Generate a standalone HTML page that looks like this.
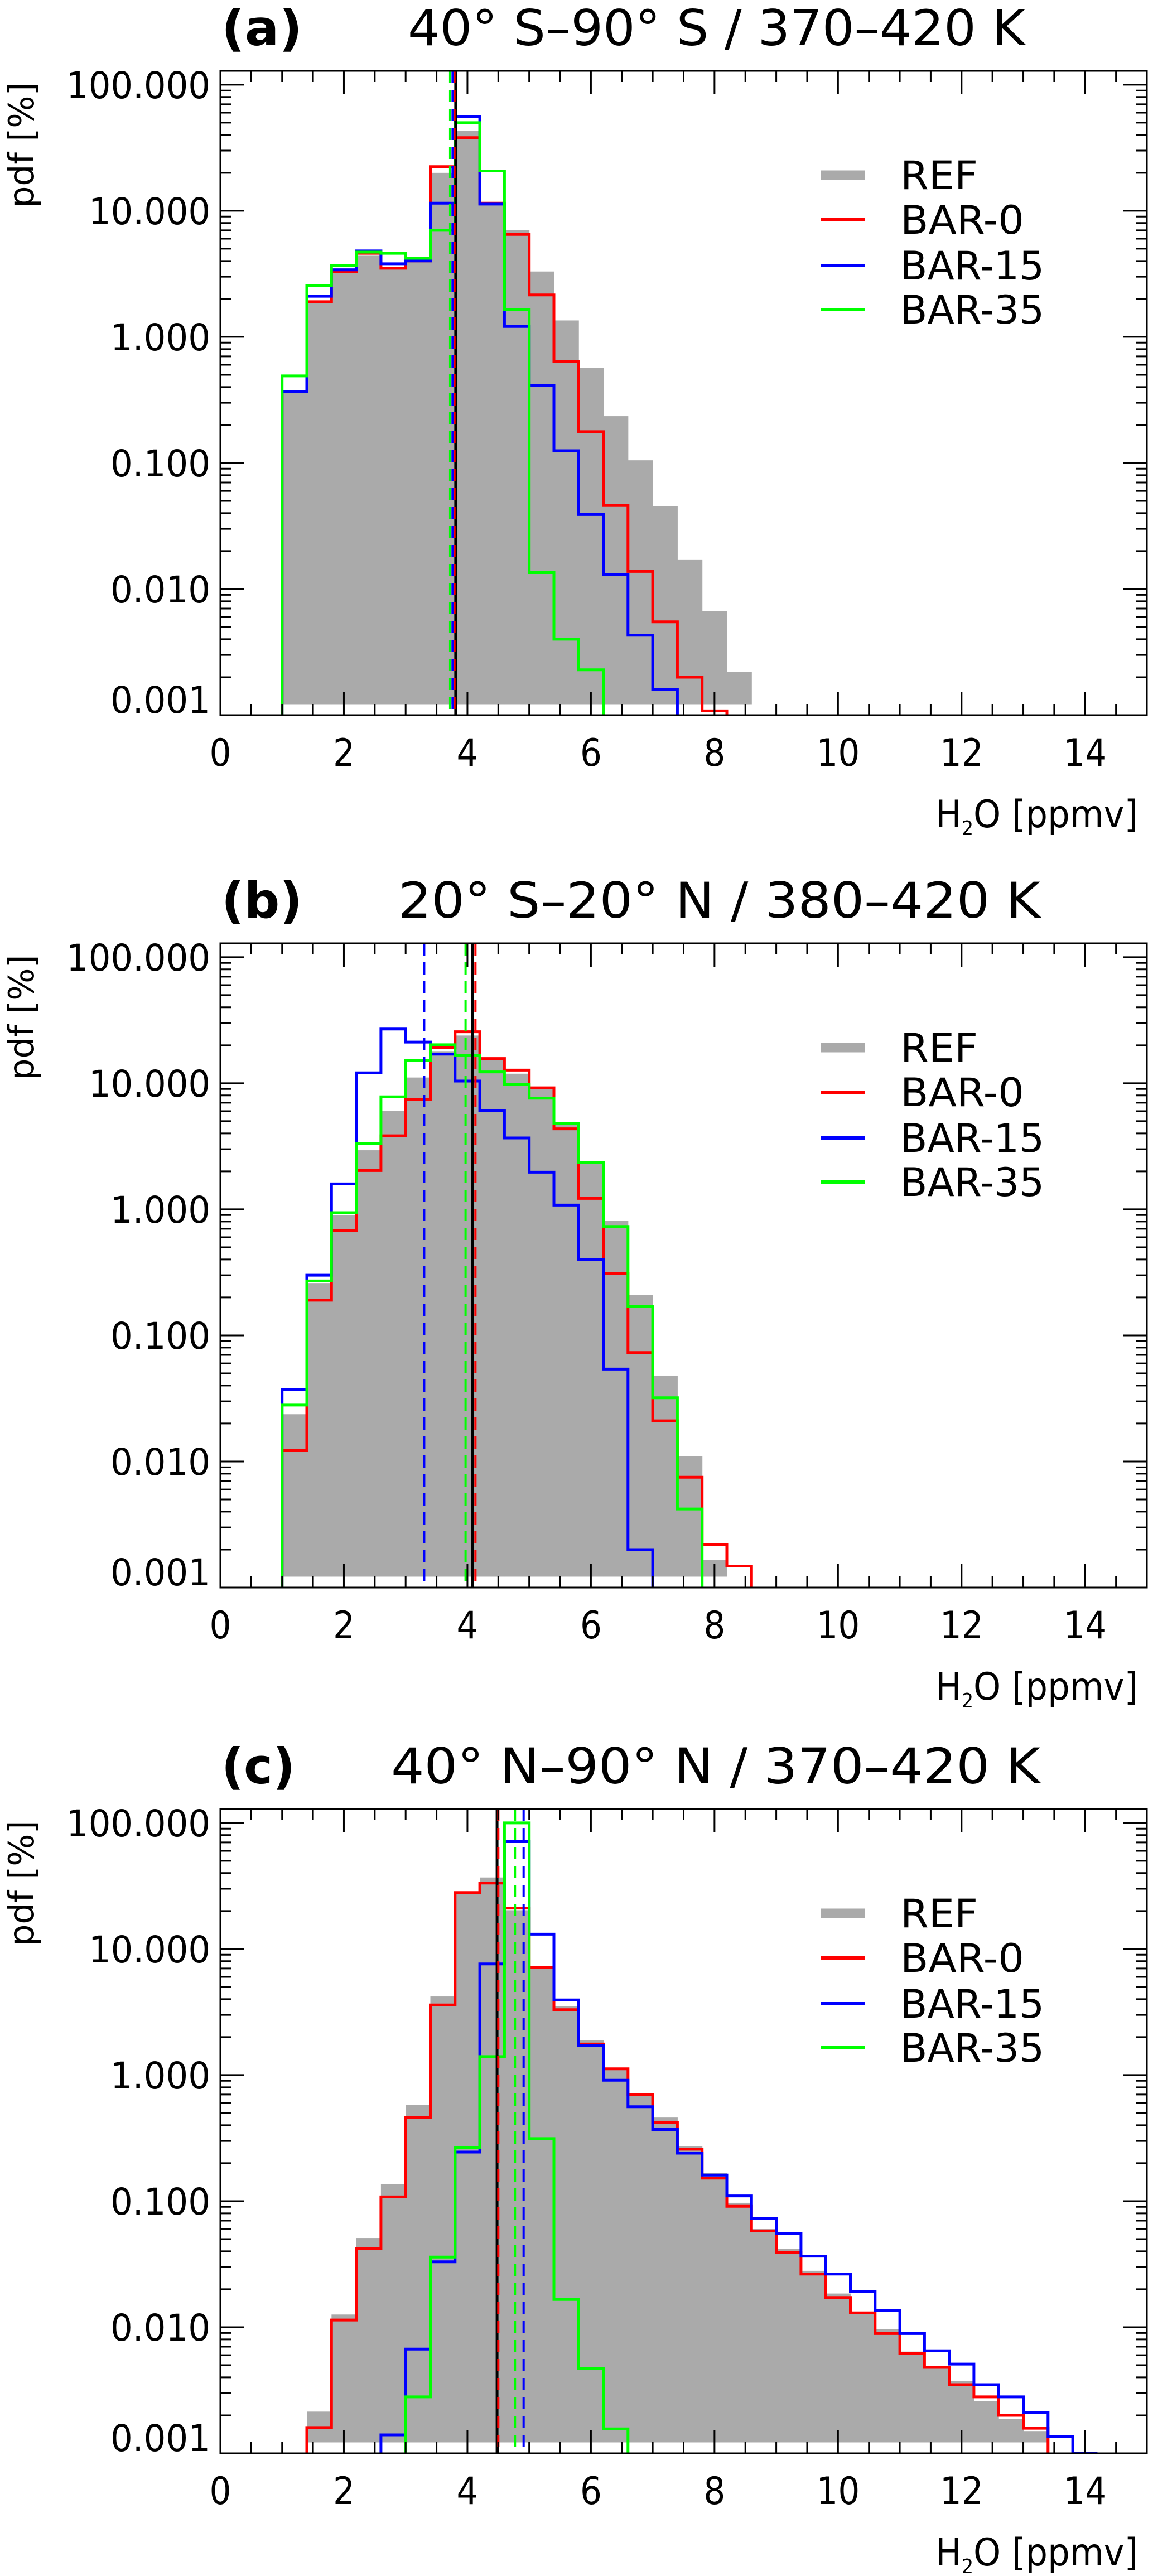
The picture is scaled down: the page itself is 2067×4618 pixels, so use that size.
<!DOCTYPE html>
<html>
<head>
<meta charset="utf-8">
<style>
html,body{margin:0;padding:0;background:#fff;}
svg{display:block;}
text{font-family:"DejaVu Sans Condensed","DejaVu Sans","Liberation Sans",sans-serif;fill:#000;}
</style>
</head>
<body>
<svg id="fig" xmlns="http://www.w3.org/2000/svg" width="2067" height="4618" viewBox="0 0 2067 4618">
<rect x="0" y="0" width="2067" height="4618" fill="#fff"/>
</svg>
<script>
// ---- data ----
const binWidth = 0.4;
const xTicks = [0, 2, 4, 6, 8, 10, 12, 14];
const yTickVals = [100, 10, 1, 0.1, 0.01, 0.001];
const yTickLabels = ["100.000", "10.000", "1.000", "0.100", "0.010", "0.001"];
const seriesNames = ["REF", "BAR-0", "BAR-15", "BAR-35"];
const panelLabels = ["(a)", "(b)", "(c)"];
const panelTitles = ["40° S–90° S / 370–420 K", "20° S–20° N / 380–420 K", "40° N–90° N / 370–420 K"];

// panel (a)
const aRefStart = 1.0;
const aRef = [0.37, 1.9, 3.5, 4.4, 3.6, 4.0, 20, 43, 11.5, 7.0, 3.3, 1.35, 0.57, 0.235, 0.105, 0.0455, 0.017, 0.0067, 0.0022];
const aBar0Start = 1.0;
const aBar0 = [0.37, 1.9, 3.3, 4.6, 3.5, 4.0, 22.4, 38, 11.5, 6.5, 2.15, 0.64, 0.177, 0.046, 0.0138, 0.0055, 0.002, 0.00108];
const aBar15Start = 1.0;
const aBar15 = [0.37, 2.1, 3.4, 4.8, 3.8, 4.0, 11.5, 56, 11.3, 1.21, 0.41, 0.125, 0.039, 0.0131, 0.0043, 0.0016];
const aBar35Start = 1.0;
const aBar35 = [0.49, 2.56, 3.7, 4.7, 4.6, 4.2, 7.0, 50, 20.7, 1.64, 0.0135, 0.0040, 0.00229];
const aMeans = [3.81, 3.79, 3.76, 3.72]; // REF, BAR-0, BAR-15, BAR-35

// panel (b)
const bRefStart = 1.0;
const bRef = [0.0237, 0.26, 0.9, 2.94, 6.05, 11.1, 17.8, 23.9, 15.4, 11.9, 9.0, 4.8, 2.3, 0.81, 0.21, 0.048, 0.011, 0.00166];
const bBar0Start = 1.0;
const bBar0 = [0.0122, 0.19, 0.68, 2.03, 3.83, 7.4, 19.1, 25.6, 15.7, 12.7, 9.2, 4.35, 1.22, 0.31, 0.073, 0.021, 0.0075, 0.0022, 0.00148];
const bBar15Start = 1.0;
const bBar15 = [0.037, 0.30, 1.59, 12.1, 26.9, 21.2, 17, 10.4, 6.05, 3.68, 1.97, 1.08, 0.40, 0.054, 0.002];
const bBar35Start = 1.0;
const bBar35 = [0.028, 0.27, 0.94, 3.34, 7.8, 15.1, 20.2, 16.7, 12.3, 9.75, 7.6, 4.8, 2.35, 0.73, 0.17, 0.032, 0.0042];
const bMeans = [4.08, 4.13, 3.30, 3.97];

// panel (c)
const cRefStart = 1.4;
const cRef = [0.00214, 0.0126, 0.051, 0.137, 0.58, 4.2, 28.6, 36.9, 20.3, 7.1, 3.5, 1.89, 1.14, 0.72, 0.46, 0.274, 0.168, 0.097, 0.060, 0.042, 0.028, 0.0185, 0.0130, 0.0096, 0.0064, 0.0049, 0.00375, 0.0026, 0.00188, 0.0015];
const cBar0Start = 1.4;
const cBar0 = [0.0016, 0.0114, 0.042, 0.108, 0.46, 3.6, 28, 33.3, 21.1, 7.1, 3.3, 1.76, 1.12, 0.70, 0.42, 0.258, 0.152, 0.091, 0.058, 0.039, 0.0264, 0.0172, 0.0130, 0.0089, 0.0062, 0.0048, 0.0035, 0.0028, 0.0020, 0.00158];
const cBar15Start = 2.6;
const cBar15 = [0.0014, 0.0067, 0.033, 0.245, 7.6, 71, 13.1, 3.94, 1.71, 0.91, 0.56, 0.37, 0.24, 0.161, 0.11, 0.073, 0.0555, 0.0366, 0.0264, 0.0191, 0.0136, 0.0089, 0.0065, 0.0051, 0.0035, 0.0028, 0.0021, 0.00135, 0.001];
const cBar35Start = 3.0;
const cBar35 = [0.0028, 0.036, 0.266, 1.40, 100, 0.313, 0.0166, 0.0047, 0.00156];
const cMeans = [4.48, 4.50, 4.91, 4.77];

// ---- layout ----
const NS = "http://www.w3.org/2000/svg";
const svg = document.getElementById("fig");
const X0 = 395, X1 = 2056, XMAX = 15;
const PH = 1155, LOGMIN = -3, LOGMAX = 2.11, REF_FLOOR = 0.00122;
const tops = [127, 1691, 3243];
const colors = ["#aaaaaa", "#ff0000", "#0000ff", "#00ff00"];

function mk(tag, attrs, parent) {
  const e = document.createElementNS(NS, tag);
  for (const k in attrs) e.setAttribute(k, attrs[k]);
  (parent || svg).appendChild(e);
  return e;
}
function xs(v) { return X0 + v / XMAX * (X1 - X0); }
function ysF(top) {
  return function (v) {
    const lv = Math.max(Math.log10(v), LOGMIN);
    return top + (LOGMAX - lv) / (LOGMAX - LOGMIN) * PH;
  };
}
function stepPath(start, vals, ys, bottom) {
  let d = "M" + xs(start).toFixed(1) + "," + bottom;
  vals.forEach(function (v, i) {
    const xa = xs(start + i * binWidth), xb = xs(start + (i + 1) * binWidth);
    const y = ys(v).toFixed(1);
    d += " L" + xa.toFixed(1) + "," + y + " L" + xb.toFixed(1) + "," + y;
  });
  d += " L" + xs(start + vals.length * binWidth).toFixed(1) + "," + bottom;
  return d;
}

const panels = [
  { refStart: aRefStart, ref: aRef, lines: [[aBar0Start, aBar0], [aBar15Start, aBar15], [aBar35Start, aBar35]], means: aMeans },
  { refStart: bRefStart, ref: bRef, lines: [[bBar0Start, bBar0], [bBar15Start, bBar15], [bBar35Start, bBar35]], means: bMeans },
  { refStart: cRefStart, ref: cRef, lines: [[cBar0Start, cBar0], [cBar15Start, cBar15], [cBar35Start, cBar35]], means: cMeans }
];
const pnames = ["a", "b", "c"];

panels.forEach(function (p, pi) {
  const top = tops[pi], bottom = top + PH;
  const ys = ysF(top);
  const g = mk("g", {});
  
  

  const cp = mk("clipPath", { id: "clip" + pi }, g);
  mk("rect", { x: X0, y: top, width: X1 - X0, height: PH }, cp);
  const plot = mk("g", { "clip-path": "url(#clip" + pi + ")" }, g);
  
  

  p.ref.forEach(function (v, i) {
    const xa = xs(p.refStart + i * binWidth), xb = xs(p.refStart + (i + 1) * binWidth);
    const yt = ys(v), yb = ys(REF_FLOOR);
    const r = mk("rect", { x: xa, y: yt, width: xb - xa + 0.5, height: Math.max(0, yb - yt), fill: colors[0] }, plot);
    
    
  });
  p.lines.forEach(function (s, si) {
    const path = mk("path", { d: stepPath(s[0], s[1], ys, bottom), fill: "none", stroke: colors[si + 1], "stroke-width": 5, "stroke-linejoin": "miter" }, plot);
    
    
  });
  const xm = xs(p.means[0]);
  const ml = mk("line", { x1: xm, x2: xm, y1: top, y2: bottom, stroke: "#000", "stroke-width": 5 }, plot);
  
  
  [1, 2, 3].forEach(function (si) {
    const x = xs(p.means[si]);
    const l = mk("line", { x1: x, x2: x, y1: top, y2: bottom, stroke: colors[si], "stroke-width": 4, "stroke-dasharray": "22,12" }, plot);
    
    
  });

  const box = mk("rect", { x: X0, y: top, width: X1 - X0, height: PH, fill: "none", stroke: "#000", "stroke-width": 3 }, g);
  
  

  const tg = mk("g", { stroke: "#000", "stroke-width": 3 }, g);
  
  
  for (let k = 1; k < XMAX * 2; k++) {
    const v = k * 0.5;
    const major = xTicks.indexOf(v) >= 0;
    const L = major ? 42 : 20;
    const x = xs(v);
    mk("line", { x1: x, x2: x, y1: bottom, y2: bottom - L }, tg);
    mk("line", { x1: x, x2: x, y1: top, y2: top + L }, tg);
  }
  for (let d = LOGMIN; d <= 2; d++) {
    for (let m = 1; m <= 9; m++) {
      const v = m * Math.pow(10, d);
      if (Math.log10(v) > LOGMAX || (d === LOGMIN && m === 1)) continue;
      const L = m === 1 ? 42 : 20;
      const y = ys(v);
      mk("line", { x1: X0, x2: X0 + L, y1: y, y2: y }, tg);
      mk("line", { x1: X1, x2: X1 - L, y1: y, y2: y }, tg);
    }
  }
  xTicks.forEach(function (v) {
    const t = mk("text", { x: xs(v), y: bottom + 91, "font-size": 68, "text-anchor": "middle" }, g);
    t.textContent = String(v);
    
    
  });
  const ylw = [258, 218, 179, 179, 179, 179];
  yTickVals.forEach(function (v, i) {
    let y = ys(v) + 24;
    if (i === yTickVals.length - 1) y -= 28;
    const t = mk("text", { x: 377 - ylw[i], y: y, "font-size": 66, textLength: ylw[i], lengthAdjust: "spacingAndGlyphs" }, g);
    t.textContent = yTickLabels[i];
    
    
  });
  const yt = mk("text", { x: 0, y: 0, "font-size": 62, "text-anchor": "middle", transform: "translate(60," + (top + 133) + ") rotate(-90)", textLength: 225, lengthAdjust: "spacingAndGlyphs" }, g);
  yt.textContent = "pdf [%]";
  
  
  const xt = mk("text", { x: 1677, y: bottom + 201, "font-size": 68, textLength: 363, lengthAdjust: "spacingAndGlyphs" }, g);
  xt.innerHTML = 'H<tspan font-size="36" dy="14">2</tspan><tspan dy="-14">O [ppmv]</tspan>';
  
  

  const pl = mk("text", { x: 397, y: top - 46, "font-size": 88, "font-weight": "bold", textLength: pi === 2 ? 132 : 145, lengthAdjust: "spacingAndGlyphs" }, g);
  pl.textContent = panelLabels[pi];
  
  
  const tStart = [731, 714, 701][pi], tEnd = [1838, 1865, 1865][pi];
  const tt = mk("text", { x: tStart, y: top - 46, "font-size": 88, textLength: tEnd - tStart, lengthAdjust: "spacingAndGlyphs" }, g);
  tt.textContent = panelTitles[pi];
  
  

  const lg = mk("g", {}, g);
  
  
  const rows = [187, 267, 349, 428];
  const lw = [139, 222, 258, 258];
  seriesNames.forEach(function (n, i) {
    const y = top + rows[i];
    const ln = mk("line", { x1: 1471, x2: 1550, y1: y, y2: y, stroke: colors[i], "stroke-width": i === 0 ? 17 : 6 }, lg);
    
    
    const t = mk("text", { x: 1614, y: y + 25, "font-size": 70, textLength: lw[i], lengthAdjust: "spacingAndGlyphs" }, lg);
    t.textContent = n;
    
    
  });
});
</script>
</body>
</html>
